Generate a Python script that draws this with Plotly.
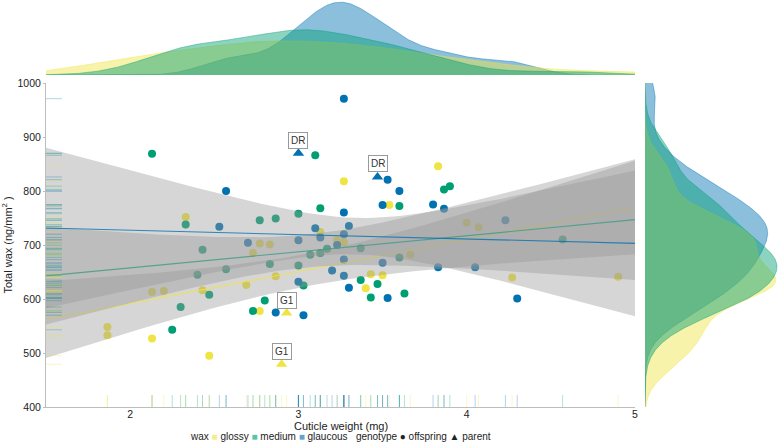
import numpy as np
import plotly.graph_objects as go

# ---------------- data ----------------
wax_levels = ["glossy", "medium", "glaucous"]
genotype_levels = ["offspring", "parent"]
genotype_symbols = ["●", "▲"]

glossy_off_x = [1.865, 1.865, 2.13, 2.13, 2.20, 2.33, 2.43, 2.47, 2.69, 2.73,
                2.77, 2.77, 2.83, 2.865, 3.13, 3.23, 3.27, 3.27, 3.40, 3.43,
                3.50, 3.54, 3.665, 3.83, 4.00, 4.07, 4.27, 4.90]
glossy_off_y = [548, 533, 527, 613, 615, 752, 616, 495, 626, 685,
                703, 578, 701, 642, 724, 709, 705, 818, 620, 646,
                644, 774, 682, 846, 741, 733, 640, 641]

medium_off_x = [2.13, 2.25, 2.30, 2.33, 2.40, 2.43, 2.47, 2.57, 2.73, 2.77,
                2.80, 2.83, 2.865, 3.00, 3.00, 3.03, 3.07, 3.10, 3.13, 3.13,
                3.17, 3.37, 3.37, 3.43, 3.47, 3.60, 3.60, 3.63, 3.865, 3.90,
                4.57]
medium_off_y = [869, 543, 585, 738, 645, 691, 608, 655, 578, 746,
                597, 665, 749, 758, 662, 625, 682, 866, 768, 685,
                693, 694, 635, 603, 628, 772, 677, 610, 803, 809,
                710]

glaucous_off_x = [2.53, 2.57, 2.70, 2.865, 3.00, 3.00, 3.03, 3.10, 3.13, 3.20,
                  3.23, 3.27, 3.27, 3.27, 3.27, 3.27, 3.30, 3.30, 3.50, 3.50,
                  3.53, 3.53, 3.60, 3.80, 3.83, 3.865, 4.05, 4.23, 4.30]
glaucous_off_y = [734, 800, 704, 575, 709, 632, 570, 731, 714, 653,
                  700, 971, 760, 720, 673, 643, 735, 621, 774, 667,
                  821, 602, 800, 775, 659, 767, 659, 746, 601]

parent_x = [3.00, 3.47, 2.93, 2.90]
parent_y = [870, 826, 574, 479]
parent_wax = ["glaucous", "glaucous", "glossy", "glossy"]
parent_label = ["DR", "DR", "G1", "G1"]

x_ticks = [2, 3, 4, 5]
y_ticks = [400, 500, 600, 700, 800, 900, 1000]

# ---------------- styling ----------------
colors = {"glossy": "#F0E442", "medium": "#009E73", "glaucous": "#0072B2"}
W, H = 781, 445


def rgba(hexc, a):
    h = hexc.lstrip("#")
    return "rgba(%d,%d,%d,%.3f)" % (int(h[0:2], 16), int(h[2:4], 16), int(h[4:6], 16), a)


offspring = {"glossy": (glossy_off_x, glossy_off_y),
             "medium": (medium_off_x, medium_off_y),
             "glaucous": (glaucous_off_x, glaucous_off_y)}


def group_all(w):
    xs = list(offspring[w][0]) + [px for px, pw in zip(parent_x, parent_wax) if pw == w]
    ys = list(offspring[w][1]) + [py for py, pw in zip(parent_y, parent_wax) if pw == w]
    return np.array(xs, float), np.array(ys, float)


def nrd0(v):
    v = np.asarray(v, float)
    sd = v.std(ddof=1)
    iqr = np.subtract(*np.percentile(v, [75, 25]))
    lo = min(sd, iqr / 1.34) if iqr > 0 else sd
    return 0.9 * lo * len(v) ** -0.2


def kde(v, grid):
    v = np.asarray(v, float)
    bw = nrd0(v)
    z = (grid[:, None] - v[None, :]) / bw
    return np.exp(-0.5 * z ** 2).sum(axis=1) / (len(v) * bw * np.sqrt(2 * np.pi))


def t975(df):
    z = 1.959963985
    return (z + (z ** 3 + z) / (4 * df) + (5 * z ** 5 + 16 * z ** 3 + 3 * z) / (96 * df ** 2)
            + (3 * z ** 7 + 19 * z ** 5 + 17 * z ** 3 - 15 * z) / (384 * df ** 3))


X_RANGE = [1.5, 5.0]
Y_RANGE = [400, 1000]

fig = go.Figure()

# ---- points (offspring circles, parent triangles)
for w in wax_levels:
    ox, oy = offspring[w]
    fig.add_trace(go.Scatter(x=ox, y=oy, mode="markers", showlegend=False,
                             marker=dict(symbol="circle", size=8, color=colors[w]),
                             xaxis="x", yaxis="y", hoverinfo="skip"))
for w in wax_levels:
    px_ = [a for a, b in zip(parent_x, parent_wax) if b == w]
    py_ = [a for a, b in zip(parent_y, parent_wax) if b == w]
    if px_:
        fig.add_trace(go.Scatter(x=px_, y=py_, mode="markers", showlegend=False,
                                 marker=dict(symbol="triangle-up", size=10, color=colors[w]),
                                 xaxis="x", yaxis="y", hoverinfo="skip"))

# ---- linear fits with 95% CI (full range)
grid_x = np.linspace(X_RANGE[0], X_RANGE[1], 80)
for w in wax_levels:
    gx, gy = group_all(w)
    n = len(gx)
    b, a = np.polyfit(gx, gy, 1)
    fit = a + b * grid_x
    resid = gy - (a + b * gx)
    s = np.sqrt((resid ** 2).sum() / (n - 2))
    sxx = ((gx - gx.mean()) ** 2).sum()
    se = s * np.sqrt(1.0 / n + (grid_x - gx.mean()) ** 2 / sxx)
    t = t975(n - 2)
    up, lo = fit + t * se, fit - t * se
    fig.add_trace(go.Scatter(x=np.concatenate([grid_x, grid_x[::-1]]),
                             y=np.concatenate([up, lo[::-1]]),
                             fill="toself", fillcolor="rgba(153,153,153,0.4)",
                             line=dict(width=0), mode="lines", showlegend=False,
                             xaxis="x", yaxis="y", hoverinfo="skip"))
    fig.add_trace(go.Scatter(x=grid_x, y=fit, mode="lines", showlegend=False,
                             line=dict(color=rgba(colors[w], 0.8), width=1.1),
                             xaxis="x", yaxis="y", hoverinfo="skip"))

# ---- rugs
for w in wax_levels:
    gx, gy = group_all(w)
    rx, ry = [], []
    for v in gy:
        rx += [0, 1, None]
        ry += [v, v, None]
    fig.add_trace(go.Scatter(x=rx, y=ry, mode="lines", showlegend=False,
                             line=dict(color=rgba(colors[w], 0.3), width=1),
                             xaxis="x3", yaxis="y", hoverinfo="skip"))
    bx, by = [], []
    for v in gx:
        bx += [v, v, None]
        by += [0, 1, None]
    fig.add_trace(go.Scatter(x=bx, y=by, mode="lines", showlegend=False,
                             line=dict(color=rgba(colors[w], 0.3), width=1),
                             xaxis="x", yaxis="y3", hoverinfo="skip"))

# ---- marginal densities
dens_order = ["glaucous", "glossy", "medium"]
gxd = np.linspace(X_RANGE[0], X_RANGE[1], 512)
gyd = np.linspace(Y_RANGE[0], Y_RANGE[1], 512)
top_max, right_max = 0, 0
for w in dens_order:
    gx, gy = group_all(w)
    dx = kde(gx, gxd)
    dy = kde(gy, gyd)
    top_max = max(top_max, dx.max())
    right_max = max(right_max, dy.max())
    fig.add_trace(go.Scatter(x=gxd, y=dx, mode="lines", fill="tozeroy",
                             fillcolor=rgba(colors[w], 0.45),
                             line=dict(color=rgba(colors[w], 0.6), width=0.7),
                             showlegend=False, xaxis="x", yaxis="y4", hoverinfo="skip"))
    fig.add_trace(go.Scatter(x=dy, y=gyd, mode="lines", fill="tozerox",
                             fillcolor=rgba(colors[w], 0.45),
                             line=dict(color=rgba(colors[w], 0.6), width=0.7),
                             showlegend=False, xaxis="x5", yaxis="y", hoverinfo="skip"))

# ---- labels for parents
for lx, ly, lab in zip(parent_x, parent_y, parent_label):
    fig.add_annotation(x=lx, y=ly, xref="x", yref="y", text=lab, showarrow=False,
                       yshift=13, font=dict(size=10, color="#333333", family="Liberation Sans"),
                       bgcolor="white", bordercolor="#9a9a9a", borderwidth=1, borderpad=2)

# ---- x axis title
fig.add_annotation(x=(46 + 635) / 2 / W, y=(H - 426) / H, xref="paper", yref="paper",
                   text="Cuticle weight (mg)", showarrow=False, xanchor="center", yanchor="middle",
                   font=dict(size=11, color="#222222"))

# ---- compact legend (text with coloured key glyphs)
wax_keys = " ".join("<span style='color:%s'>■</span> %s" % (rgba(colors[w], 0.65), w)
                    for w in wax_levels)
geno_keys = " ".join("%s %s" % (s, g) for s, g in zip(genotype_symbols, genotype_levels))
legend_text = "wax " + wax_keys + "&nbsp;&nbsp; genotype " + geno_keys
fig.add_annotation(x=340 / W, y=(H - 436) / H, xref="paper", yref="paper",
                   text=legend_text, showarrow=False, xanchor="center", yanchor="middle",
                   font=dict(size=10, color="#222222"))

axis_col = "#bdbdbd"
xdom = [46 / W, 635 / W]
ydom = [38 / H, 362 / H]
fig.update_layout(
    width=W, height=H,
    margin=dict(l=0, r=0, t=0, b=0),
    paper_bgcolor="white", plot_bgcolor="rgba(0,0,0,0)",
    font=dict(family="Liberation Sans", size=11, color="#222222"),
    showlegend=False,
    xaxis=dict(domain=xdom, range=X_RANGE, tickvals=x_ticks, showgrid=False, zeroline=False,
               showline=True, linecolor=axis_col, linewidth=1, ticks="",
               ticklabelstandoff=-3,
               tickfont=dict(size=10.5), anchor="y", automargin=False),
    yaxis=dict(domain=ydom, range=Y_RANGE, tickvals=y_ticks, showgrid=False, zeroline=False,
               showline=True, linecolor=axis_col, linewidth=1, ticks="outside", ticklen=2,
               tickcolor=axis_col, tickfont=dict(size=10.5), anchor="x",
               title=dict(text="Total wax (ng/mm<sup>2</sup> )", font=dict(size=11), standoff=6),
               automargin=False),
    xaxis3=dict(domain=[46 / W, 62 / W], range=[0, 1], visible=False, anchor="y"),
    yaxis3=dict(domain=[38 / H, 50 / H], range=[0, 1], visible=False, anchor="x"),
    yaxis4=dict(domain=[370 / H, 1.0], range=[0, top_max * 1.03], visible=False, anchor="x"),
    xaxis5=dict(domain=[645 / W, 1.0], range=[0, right_max * 1.03], visible=False, anchor="y"),
)

fig.write_html("out.html")
